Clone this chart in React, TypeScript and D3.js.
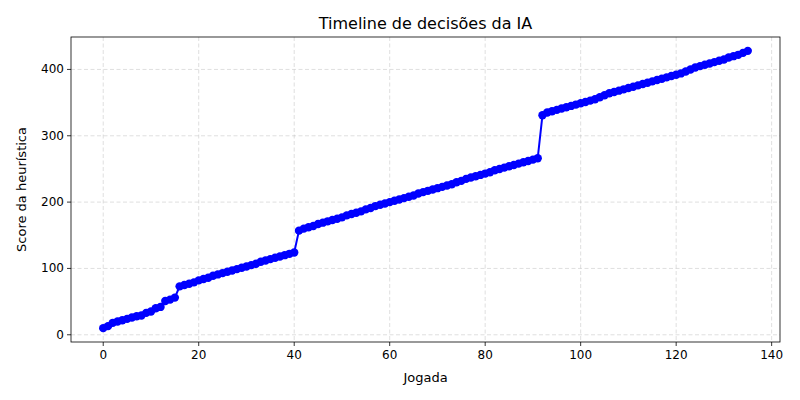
import * as d3 from 'd3'

const scores = [
  10, 13, 18, 20, 22, 24, 26, 28, 29, 33, 35, 40, 42, 51, 53, 56,
  73, 75, 77, 79, 82, 84, 86, 89, 91, 93, 95, 97, 99, 101, 103, 105, 107, 110, 112, 114, 116, 118, 120, 122, 124,
  157, 160, 162, 164, 167, 169, 171, 173, 175, 177, 180, 182, 184, 186, 189, 191, 194, 196, 198, 200, 202, 204, 206, 208, 210,
  213, 215, 217, 219, 221, 223, 225, 227, 230, 232, 235, 237, 239, 241, 243, 245, 248, 250, 252, 254, 256, 258, 260, 262, 264, 266,
  331, 335, 337, 339, 341, 343, 345, 347, 349, 351, 353, 355, 358, 361, 364, 366, 368, 370, 372, 374, 376, 378, 380, 382, 384,
  386, 388, 390, 392, 394, 397, 400, 403, 405, 407, 409, 411, 413, 415, 418, 420, 422, 425, 428,
]
const xTicks = [0, 20, 40, 60, 80, 100, 120, 140]
const yTicks = [0, 100, 200, 300, 400]

export default function App() {
  const W = 800, H = 400
  const m = { left: 71, right: 780, top: 37, bottom: 342 }
  const n = scores.length - 1
  const x = d3.scaleLinear().domain([-n * 0.05, n * 1.05]).range([m.left, m.right])
  const ymin = d3.min(scores)!, ymax = d3.max(scores)!
  const pad = (ymax - ymin) * 0.05
  const y = d3.scaleLinear().domain([ymin - pad, ymax + pad]).range([m.bottom, m.top])
  const line = d3.line<number>().x((_, i) => x(i)).y(d => y(d))
  const font = 'DejaVu Sans, sans-serif'

  return (
    <svg width={W} height={H} style={{ position: 'absolute', left: 0, top: 0 }} fontFamily={font}>
      <rect width={W} height={H} fill="#fff" />
      {xTicks.map(t => (
        <g key={`x${t}`}>
          <line x1={x(t)} x2={x(t)} y1={m.top} y2={m.bottom} stroke="#b0b0b0" strokeOpacity={0.5} strokeDasharray="4,2.5" strokeWidth={0.8} />
          <line x1={x(t)} x2={x(t)} y1={m.bottom} y2={m.bottom + 4} stroke="#000" strokeWidth={0.8} />
          <text x={x(t)} y={m.bottom + 17} textAnchor="middle" fontSize={12}>{t}</text>
        </g>
      ))}
      {yTicks.map(t => (
        <g key={`y${t}`}>
          <line x1={m.left} x2={m.right} y1={y(t)} y2={y(t)} stroke="#b0b0b0" strokeOpacity={0.5} strokeDasharray="4,2.5" strokeWidth={0.8} />
          <line x1={m.left - 4} x2={m.left} y1={y(t)} y2={y(t)} stroke="#000" strokeWidth={0.8} />
          <text x={m.left - 7} y={y(t) + 4} textAnchor="end" fontSize={12}>{t}</text>
        </g>
      ))}
      <path d={line(scores) ?? ''} fill="none" stroke="#0000ff" strokeWidth={2} />
      {scores.map((s, i) => (
        <circle key={i} cx={x(i)} cy={y(s)} r={4.2} fill="#0000ff" />
      ))}
      <rect x={m.left} y={m.top} width={m.right - m.left} height={m.bottom - m.top} fill="none" stroke="#000" strokeWidth={0.8} />
      <text x={(m.left + m.right) / 2} y={29} textAnchor="middle" fontSize={16}>Timeline de decisões da IA</text>
      <text x={(m.left + m.right) / 2} y={382} textAnchor="middle" fontSize={13}>Jogada</text>
      <text transform={`translate(26,${(m.top + m.bottom) / 2}) rotate(-90)`} textAnchor="middle" fontSize={13}>Score da heurística</text>
    </svg>
  )
}
